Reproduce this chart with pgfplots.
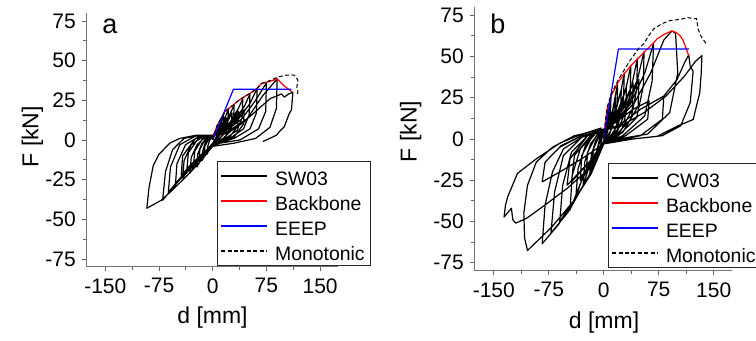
\documentclass[border=0pt]{standalone}
\usepackage{fontspec}
\setmainfont{Liberation Sans}
\usepackage{pgfplots}
\pgfplotsset{compat=1.18}
\pgfplotsset{
  hyst/.style={
    scale only axis,
    anchor=south west,
    axis x line=bottom, axis y line=left,
    axis line style={-, black!55, line width=0.5pt},
    x axis line style={-}, y axis line style={-},
    xmin=-177, xmax=175, ymin=-80, ymax=80,
    xtick={-150,-75,0,75,150},
    xticklabels={-150,-75,0,75,150},
    ytick={-75,-50,-25,0,25,50,75},
    yticklabels={-75,-50,-25,0,25,50,75},
    minor x tick num=1, minor y tick num=1,
    tick align=outside,
    major tick length=2.2pt, minor tick length=1.5pt,
    tick style={black!60, line width=0.4pt},
    ticklabel style={font=\fontsize{10.5}{12}\selectfont},
    yticklabel style={xshift=0.6pt},
    label style={font=\fontsize{11.5}{13}\selectfont},
    clip=false,
    legend cell align=left,
    legend style={font=\fontsize{9.7}{11}\selectfont, draw=black!85,
      anchor=south west, inner xsep=1.5pt, inner ysep=1.5pt, row sep=1.1pt,
      nodes={inner sep=1.2pt, text height=9pt, text depth=0pt},
      /tikz/every odd column/.append style={column sep=2.6pt}},
    legend image code/.code={\draw[##1, line width=0.8pt] (0cm,0cm) -- (0.8cm,0cm);},
  },
}
\begin{document}
\begin{tikzpicture}
% ---------------- panel a ----------------
\begin{axis}[hyst, at={(43pt,37pt)}, width=126pt, height=127pt,
  xlabel={d [mm]}, ylabel={F [kN]},
  xlabel style={at={(axis description cs:0.502,-0.222)}, anchor=base},
  ylabel style={at={(axis description cs:-0.1885,0.513)}, anchor=base},
  legend style={at={(0.52,0.004)}}]
\addplot[color=black, line width=0.6pt, line join=round] coordinates {
(0,0) (3,5) (8,10) (7,5) (4,1) (0,-2) (-4,-5) (-8,-9) (-7,-4) (-4,0) (0,2)
(5,6) (11,11) (15,15) (14,8) (10,3) (4,0) (0,-2) (-6,-6) (-11,-10) (-15,-13) (-14,-7) (-10,-1) (-4,2) (0,3)
(6,6) (12,12) (11,6) (6,1) (0,-2) (-6,-6) (-12,-10) (-11,-4) (-5,1) (0,2)
(6,5) (14,11) (19,16) (22,19.5) (21,11) (16,4) (8,0) (0,-3) (-8,-7) (-16,-12) (-22,-17) (-21,-9) (-15,-2) (-6,2) (0,3)
(8,5) (15,10) (19,14) (18,7) (12,2) (0,-2) (-10,-7) (-19,-13) (-18,-6) (-10,1) (0,3)
(8,5) (18,11) (26,18) (30,22.5) (29,12) (24,5) (12,0) (0,-3) (-10,-8) (-22,-14) (-32,-21) (-30,-11) (-22,-3) (-10,2) (0,3)
(10,5) (20,11) (27,17) (26,9) (18,2) (0,-3) (-14,-9) (-27,-16) (-25,-7) (-14,1) (0,3)
(10,5) (24,11) (36,20) (42,26) (41,14) (34,6) (18,1) (0,-3) (-14,-9) (-30,-16) (-42,-24) (-40,-13) (-30,-3) (-14,2) (0,3)
(12,5) (26,11) (36,18) (35,9) (24,2) (0,-3) (-18,-10) (-36,-18) (-34,-8) (-20,1) (0,3)
(12,5) (28,11) (44,21) (52,29) (51,16) (43,7) (24,1) (0,-3) (-16,-10) (-36,-19) (-52,-28) (-50,-15) (-38,-3) (-18,2.5) (0,3)
(14,5) (30,11) (44,19) (43,10) (30,2) (0,-3) (-22,-12) (-44,-22) (-42,-10) (-24,1) (0,3)
(14,5) (34,12) (52,23) (62,32.5) (61,17) (52,7) (30,1) (0,-3) (-20,-12) (-42,-22) (-62,-33) (-59,-17) (-46,-3) (-24,2.5) (0,3)
(16,5) (40,13) (60,25) (75,36) (74,18) (64,7) (38,0) (10,-2) (0,-4) (-22,-14) (-48,-26) (-70,-38) (-66,-20) (-56,-6) (-40,1) (-20,3) (0,3)
(20,4) (46,12) (70,28) (90,38.5) (89,20) (80,8) (60,1) (30,-2) (0,-4) (-20,-15) (-37,-23) (-55,-31) (-72,-38) (-92,-43) (-89,-30) (-83,-16) (-75,-9) (-60,-2) (-46,1) (-23,3) (0,3)
(20,5) (50,14) (80,26) (96,29) (100,27) (106,29) (112,30) (110,19) (107,16.7) (100,8.4) (93,5.2) (89,3) (70,-1)
};
\addlegendentry{SW03}
\addplot[color=red, line width=0.6pt, line join=round] coordinates {
(0,0) (3,5) (6,9) (12,14) (17,17.8) (20,19) (28.6,22) (35,24.5) (45,27.5) (52,29.3) (62,32.5) (68,35.6) (77,36.6) (84,37.5) (90,38.5) (100,34) (111,30.3)
};
\addlegendentry{Backbone}
\addplot[color=blue, line width=0.6pt, line join=round] coordinates {(0,0) (29,32) (110,32)};
\addlegendentry{EEEP}
\addplot[color=black, line width=0.5pt, dash pattern=on 2pt off 1.2pt] coordinates {
(0,0) (3,5) (6,9) (12,14) (20,19) (28.6,22) (35,24.5) (45,27.5) (52,29.3) (62,32.5) (68,35.6) (77,36.9) (85,38.5) (91,39.7) (102.7,40.8) (110,41) (114,40.8) (119,37.7) (117.5,33.5) (119,30.3) (118,29)
};
\addlegendentry{Monotonic}
\end{axis}
\node[anchor=base west, inner sep=0pt, font=\fontsize{13.5}{15}\selectfont] at (51pt,153.5pt) {a};
% ---------------- panel b ----------------
\begin{axis}[hyst, at={(237pt,35pt)}, width=129pt, height=132pt,
  xlabel={d [mm]}, ylabel={F [kN]},
  xlabel style={at={(axis description cs:0.504,-0.217)}, anchor=base},
  ylabel style={at={(axis description cs:-0.222,0.528)}, anchor=base},
  legend style={at={(0.519,0.011)}}]
\addplot[color=black, line width=0.6pt, line join=round] coordinates {
(0,0) (3,10) (5,18) (4,8) (2,2) (0,-1) (-3,-4) (-5,-8) (-4,-3) (-2,1) (0,3)
(3,7) (7,16) (10,26) (9,14) (5,4) (0,-1) (-5,-6) (-10,-13) (-9,-6) (-5,1) (0,4)
(4,8) (8,18) (7,9) (3,2) (0,-1) (-4,-5) (-8,-10) (-7,-4) (-3,2) (0,4)
(5,8) (12,17) (19,34) (18,20) (12,7) (4,1) (0,-2) (-8,-8) (-14,-14) (-19,-21) (-17,-10) (-11,-1) (-4,4) (0,5)
(6,8) (12,16) (16,25) (15,13) (8,3) (0,-2) (-8,-8) (-16,-16) (-14,-6) (-6,2) (0,4)
(7,9) (16,18) (24,30) (28,40) (27,24) (20,9) (8,1) (0,-2) (-10,-9) (-20,-17) (-28,-28) (-26,-14) (-18,-3) (-6,4) (0,5)
(8,9) (17,18) (24,30) (23,16) (14,4) (0,-2) (-12,-9) (-24,-20) (-22,-8) (-10,2) (0,5)
(8,9) (20,18) (30,30) (37,44.5) (36,27) (28,11) (12,2) (0,-2) (-12,-10) (-26,-20) (-38,-35) (-35,-18) (-25,-4) (-10,4) (0,6)
(10,9) (22,18) (31,32) (30,17) (18,4) (0,-2) (-15,-11) (-32,-25) (-30,-10) (-14,3) (0,5)
(10,9) (24,18) (38,32) (46,49) (45,30) (37,12) (16,2) (0,-3) (-14,-12) (-30,-25) (-46,-43) (-43,-22) (-32,-6) (-14,3) (0,6)
(12,9) (26,18) (40,34) (39,18) (22,4) (0,-3) (-18,-13) (-44,-26) (-40,-10) (-18,2) (0,5)
(12,10) (30,20) (46,36) (55,53) (54,32) (45,13) (20,2) (0,-3) (-17,-20) (-40,-37) (-60,-50) (-56,-28) (-44,-8) (-22,2) (0,6)
(14,10) (32,19) (48,36) (47,20) (26,4) (0,-3) (-20,-14) (-50,-28) (-46,-12) (-22,2) (0,5)
(14,10) (36,21) (56,40) (68,58) (66,35) (56,14) (26,2) (0,-3) (-20,-22) (-48,-44) (-72,-57) (-67,-32) (-55,-10) (-30,1) (0,6)
(16,10) (40,18) (62,23) (60,12) (30,2) (0,-3) (-30,-12) (-60,-20) (-84,-26) (-80,-14) (-60,-5) (-30,2) (0,5)
(16,10) (42,22) (64,40) (82,60) (93,65.5) (98,64) (101,40) (90,16) (60,3) (20,0) (0,-3) (-17,-21) (-40,-37) (-62,-52) (-84,-63.5) (-80,-40) (-70,-20) (-55,-6) (-30,1) (0,6)
(20,8) (50,18) (82,26) (80,12) (50,2) (0,-3) (-30,-12) (-60,-20) (-84,-26) (-80,-14) (-58,-4) (-30,2) (0,5)
(20,8) (50,18) (82,26) (100,36) (110,46) (116,51) (118,44) (122,41) (118,22) (105,8) (80,2) (40,0) (0,-3) (-17,-21) (-40,-37) (-71,-53.4) (-104,-67.6) (-108,-60) (-109,-45) (-104,-28) (-92,-14) (-70,-5) (-40,2) (0,6)
(20,7) (55,16) (85,26) (110,38) (125,47) (134,50.5) (133,40) (131,28) (122,11.8) (100,7.7) (73,1.6) (40,0) (0,-3) (-20,-18) (-50,-30) (-80,-40) (-105,-48) (-120,-51) (-124,-49) (-126,-42) (-136,-47.3) (-134,-40) (-131,-35) (-117.6,-20.8) (-90.7,-11.6) (-59.3,-2.4) (-32,2.6) (-3,6.7)
};
\addlegendentry{CW03}
\addplot[color=red, line width=0.6pt, line join=round] coordinates {
(0,0) (2,9) (4.5,17.9) (10,26) (19,34) (28,39.5) (37,44.4) (46,48.5) (55,52.5) (64,56.5) (73,60.7) (83,63.5) (93,65.5) (99,64.5) (104,62.7) (108,60) (111,56.6) (116,50.5)
};
\addlegendentry{Backbone}
\addplot[color=blue, line width=0.6pt, line join=round] coordinates {(0,0) (20,54.5) (116,54.5)};
\addlegendentry{EEEP}
\addplot[color=black, line width=0.5pt, dash pattern=on 2pt off 1.2pt] coordinates {
(0,0) (2,9.5) (4.5,19) (10,27) (20,36) (35,47) (48,55) (55,58) (62,63) (68.3,66.8) (80,70) (90.7,71.8) (104,72.5) (115.5,73.5) (122,73) (126.7,72.9) (128.6,66.8) (133,62) (140,57.6)
};
\addlegendentry{Monotonic}
\end{axis}
\node[anchor=base west, inner sep=0pt, font=\fontsize{13.5}{15}\selectfont] at (245pt,153.5pt) {b};
\pgfresetboundingbox
\useasboundingbox (0,0) rectangle (378pt,170.5pt);
\end{tikzpicture}
\end{document}
